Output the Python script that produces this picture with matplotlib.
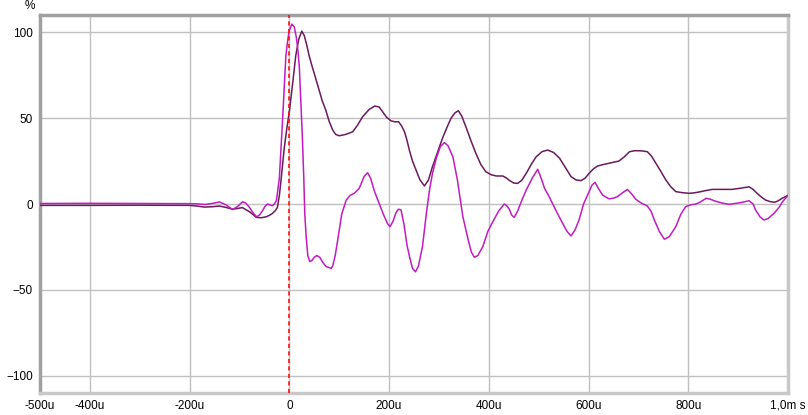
import matplotlib
matplotlib.use("Agg")
import matplotlib.pyplot as plt
import numpy as np

# time in microseconds, values in %
t_env = [-500, -400, -300, -200, -185, -170, -155, -140, -127, -114, -104, -94, -80, -66,
         -56, -46, -40, -34, -28, -24, -20, -17, -10, -5,
         0, 7, 13, 19, 25, 30, 35, 40, 45, 52, 60, 66, 73, 80, 87, 93, 100, 113, 127, 137,
         147, 160, 171, 180, 187, 195, 204, 212, 219, 225, 231, 236,
         241, 247, 254, 262, 271, 279, 287, 297, 307, 316, 324, 332, 339, 346, 354, 364,
         374, 384, 394, 405, 415, 428, 435, 441, 450, 458, 466,
         475, 485, 495, 507, 518, 530, 542, 554, 565, 575, 585, 593, 601, 610, 618, 630,
         641, 651, 661, 672, 682, 692, 702, 710, 718, 726, 735, 745,
         755, 765, 775, 788, 802, 812, 822, 835, 848, 868, 888, 905, 922, 930, 938, 946,
         955, 964, 973, 980, 988, 1000]
env = [-0.8, -0.8, -0.7, -0.8, -1.2, -1.8, -1.6, -1.2, -2.0, -3.0, -2.6, -2.1, -4.5, -7.8,
       -8.0, -7.4, -6.6, -5.5, -3.8, -2.1, 5, 13, 33, 44,
       53.7, 71, 86.6, 96, 100.6, 98, 92.4, 86, 80.8, 74, 66, 60, 54.7, 48, 43, 40.5, 39.7, 40.5, 42, 46,
       50.8, 55, 57, 56.5, 53.7, 50.5, 48.4, 47.8, 47.9, 45.5, 42, 37,
       31, 25, 19.8, 14, 10.5, 14, 21.7, 30, 38.2, 44.5, 49.8, 53, 54.3, 51, 45, 37,
       29.5, 23, 18.8, 17, 16.3, 16.3, 15.2, 13.8, 12.2, 12, 13.8,
       17.8, 23, 27.5, 30.5, 31.4, 30, 26.6, 21, 15.9, 14, 13.6, 15, 17.8, 20.5, 22.1, 23,
       23.7, 24.3, 25, 27.5, 30.4, 31, 31, 30.8, 30.4, 28, 23.7, 19,
       14, 10, 7.2, 6.6, 6.2, 6.5, 7, 7.8, 8.5, 8.5, 8.5, 9.2, 10, 8.5, 6.2, 4.2,
       2.3, 1.4, 1, 1.8, 3.3, 5]

t_imp = [-500, -400, -300, -200, -185, -170, -155, -140, -127, -114, -104, -94, -87, -80,
         -73, -66, -60, -54, -49, -44, -39, -34, -30, -26,
         -20, -13, -7, -3, 0, 5, 10, 14, 17, 20, 23, 26, 29, 31, 34, 37, 41, 45, 50, 55,
         61, 67, 74, 80, 84, 87, 92, 97, 105, 114,
         122, 130, 140, 150, 157, 163, 170, 180, 190, 197, 202, 208, 214, 219, 224, 230,
         236, 241, 247, 253, 259, 267, 275, 281, 287, 295, 303, 311, 318, 328, 337,
         348, 358, 365, 371, 378, 388, 398, 408, 420, 431, 436, 441, 446, 451, 458,
         466, 475, 487, 498, 505, 512, 521, 535, 548, 557, 565, 573, 581, 590,
         601, 607, 613, 620, 628, 641, 650, 658, 668, 678, 686, 695, 706, 718,
         725, 732, 742, 752, 762, 775, 785, 795, 805, 815, 822, 836, 844, 852,
         867, 882, 905, 922, 930, 935, 944, 952, 960, 972, 982, 989, 1000]
imp = [0.3, 0.4, 0.3, 0.2, 0.1, -0.3, 0.3, 1.2, -0.5, -3.2, -1.5, 1.3, 0.5, -2,
       -5, -7.4, -6.5, -4, -1.5, 0, -0.5, -1, 0, 2,
       15, 52, 86, 96, 101, 104.7, 103, 97, 90, 80, 60, 40, 15, -6, -20, -30, -33.5, -33, -31, -30,
       -31, -34, -36.5, -37, -37.5, -36, -30, -21, -6, 2.3,
       5, 6.2, 9, 16, 18.2, 15, 8, 0.4, -7, -11.5, -13.2, -10, -5, -3, -3.5, -12,
       -24, -30.6, -37.5, -39.5, -36, -24.8, -5, 8, 17.8, 27, 33.5, 35.7, 34, 27.5, 14,
       -7.4, -20, -28, -31, -30, -24.8, -16, -10.3, -4, 0, -1, -3, -6.5, -7.8, -4,
       2, 8.1, 15, 20.2, 15, 9, 4.3, -4, -11.2, -16, -18.6, -15, -9.3, 0,
       7.2, 11, 12.6, 9, 5.2, 3, 3.4, 4.3, 6.5, 8.5, 6, 2.7, 0.5, -1.2,
       -4, -9.3, -16, -20.5, -19, -13.2, -6, -1.5, -0.5, 0, 0.8, 3.3, 2.8, 1.9,
       0.6, -0.2, 0.8, 1.9, 0, -3.5, -7.5, -9.3, -8.5, -5.4, -2, 1.3, 5]

xticks = [-500, -400, -200, 0, 200, 400, 600, 800, 1000]
xlabels = ["-500u", "-400u", "-200u", "0", "200u", "400u", "600u", "800u", "1,0m s"]
yticks = [-100, -50, 0, 50, 100]

plt.rcParams['font.family'] = ['Liberation Sans', 'DejaVu Sans']

fig = plt.figure(figsize=(8.08, 4.15), dpi=100)
ax = fig.add_axes([40 / 808, 22 / 415, 748 / 808, 378 / 415])

ax.set_xlim(-500, 1000)
ax.set_ylim(-110, 110)

for x in [-400, -200, 0, 200, 400, 600, 800]:
    ax.axvline(x, color='#c0c0c0', lw=1, zorder=1)
for y in yticks:
    ax.axhline(y, color='#c0c0c0', lw=1, zorder=1)

ax.plot(t_env, env, color='#6a1a5e', lw=1.1, zorder=3)
ax.plot(t_imp, imp, color='#c01cc0', lw=1.1, zorder=4)
ax.axvline(0, color='#ff1010', lw=1.2, ls=(0, (2.5, 2)), zorder=5)

ax.set_xticks(xticks)
ax.set_xticklabels(xlabels)
ax.set_yticks(yticks)
ax.tick_params(length=0, labelsize=8.5, colors='black', pad=5)

for side in ['left', 'top']:
    ax.spines[side].set_color('#a0a0a0')
    ax.spines[side].set_linewidth(2.5)
for side in ['right', 'bottom']:
    ax.spines[side].set_color('#c8c8c8')
    ax.spines[side].set_linewidth(2.5)

fig.text(30 / 808, 1 - 6 / 415, "%", ha='center', va='center', fontsize=8.5)

fig.savefig("out.png", dpi=100)
